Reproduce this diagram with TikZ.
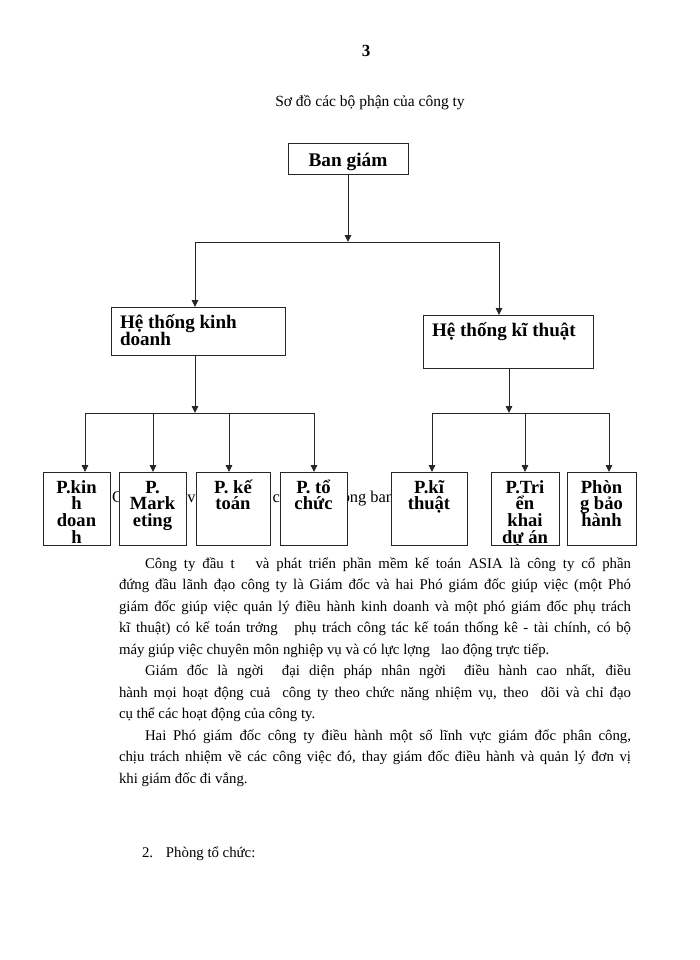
\documentclass[tikz,border=0pt]{standalone}
\usepackage{fontspec}
\setmainfont{Liberation Serif}
\usetikzlibrary{arrows.meta,calc}
\newcommand\boxlines[1]{\parbox[t]{90pt}{\centering\bfseries\fontsize{18.6}{16.7}\selectfont\lineskiplimit=-100pt\relax #1}}
\newcommand\headlines[1]{\parbox[t]{170pt}{\raggedright\bfseries\fontsize{19.1}{17}\selectfont\lineskiplimit=-100pt\relax #1}}
\begin{document}
\begin{tikzpicture}[x=1pt,y=-1pt,
  line/.style={draw=black!85, line width=0.9pt},
  arr/.style={line, -{Triangle[length=7pt,width=6.5pt]}},
  unitbox/.style={draw=black!85, line width=1pt, fill=white, inner sep=0pt, outer sep=0pt, anchor=north west},
  plain/.style={inner sep=0pt, outer sep=0pt},
  btext/.style={plain, anchor=base},
]
\fill[white] (0,0) rectangle (700,960);
\useasboundingbox (0,0) rectangle (700,960);

% page number and title
\node[btext] (pnum) at (366,57) {\bfseries\fontsize{17}{20}\selectfont 3};
\node[btext] (title) at (370,107) {\fontsize{15.5}{18}\selectfont Sơ đồ các bộ phận của công ty};

% text hidden behind the boxes
\node[plain, anchor=base west] (hidden) at (112,502) {\fontsize{16.4}{19}\selectfont Chức năng và nhiệm vụ của các phòng ban};

% top box
\node[unitbox, minimum width=120pt, minimum height=31pt,
  path picture={\node[btext] at ($(path picture bounding box.north)+(0,23)$) {\boxlines{\fontsize{19.3}{17}\selectfont Ban giám}};}] (ban) at (288,144) {};

% second level
\node[unitbox, minimum width=174pt, minimum height=48pt,
  path picture={\node[plain, anchor=base west] at ($(path picture bounding box.north west)+(7,21)$) {\headlines{Hệ thống kinh\\doanh}};}] (hkd) at (111,307) {};
\node[unitbox, minimum width=170pt, minimum height=53pt,
  path picture={\node[plain, anchor=base west] at ($(path picture bounding box.north west)+(9,21)$) {\headlines{Hệ thống kĩ thuật}};}] (hkt) at (423,315) {};

% third level
\node[unitbox, minimum width=67pt, minimum height=73pt,
  path picture={\node[btext] at ($(path picture bounding box.north)+(0,21)$) {\boxlines{P.kin\\h\\doan\\h}};}] (pkd) at (43,472) {};
\node[unitbox, minimum width=67pt, minimum height=73pt,
  path picture={\node[btext] at ($(path picture bounding box.north)+(0,21)$) {\boxlines{P.\\Mark\\eting}};}] (pmk) at (119,472) {};
\node[unitbox, minimum width=74pt, minimum height=73pt,
  path picture={\node[btext] at ($(path picture bounding box.north)+(0,21)$) {\boxlines{P. kế\\toán}};}] (pkt) at (196,472) {};
\node[unitbox, minimum width=67pt, minimum height=73pt,
  path picture={\node[btext] at ($(path picture bounding box.north)+(0,21)$) {\boxlines{P. tổ\\chức}};}] (ptc) at (280,472) {};
\node[unitbox, minimum width=76pt, minimum height=73pt,
  path picture={\node[btext] at ($(path picture bounding box.north)+(0,21)$) {\boxlines{P.kĩ\\thuật}};}] (pkth) at (391,472) {};
\node[unitbox, minimum width=68pt, minimum height=73pt,
  path picture={\node[btext] at ($(path picture bounding box.north)+(0,21)$) {\boxlines{P.Tri\\ển\\khai\\dự án}};}] (ptk) at (491,472) {};
\node[unitbox, minimum width=69pt, minimum height=73pt,
  path picture={\node[btext] at ($(path picture bounding box.north)+(0,21)$) {\boxlines{Phòn\\g bảo\\hành}};}] (pbh) at (567,472) {};

% connectors
\coordinate (jc) at (348,242);
\coordinate (jl) at (195,242);
\coordinate (jr) at (499,242);
\draw[arr] (ban.south) -- (jc);
\draw[line] (jl) -- (jr);
\draw[arr] (jl) -- (jl |- hkd.north);
\draw[arr] (jr) -- (jr |- hkt.north);

\coordinate (kl) at (195,413);
\coordinate (b1) at (85,413);
\coordinate (b2) at (153,413);
\coordinate (b3) at (229,413);
\coordinate (b4) at (314,413);
\draw[arr] (kl |- hkd.south) -- (kl);
\draw[line] (b1) -- (b4);
\draw[arr] (b1) -- (b1 |- pkd.north);
\draw[arr] (b2) -- (b2 |- pmk.north);
\draw[arr] (b3) -- (b3 |- pkt.north);
\draw[arr] (b4) -- (b4 |- ptc.north);

\coordinate (kr) at (509,413);
\coordinate (c1) at (432,413);
\coordinate (c2) at (525,413);
\coordinate (c3) at (609,413);
\draw[arr] (kr |- hkt.south) -- (kr);
\draw[line] (c1) -- (c3);
\draw[arr] (c1) -- (c1 |- pkth.north);
\draw[arr] (c2) -- (c2 |- ptk.north);
\draw[arr] (c3) -- (c3 |- pbh.north);

% body text
\node[plain, anchor=base west] (body) at (119,568) {\parbox[t]{512pt}{\fontsize{14.8}{21.5}\selectfont\lineskiplimit=-100pt\relax
\hspace*{26pt}Công ty đầu t\ \ \ và phát triển phần mềm kế toán ASIA là công ty cổ phần\linebreak
đứng đầu lãnh đạo công ty là Giám đốc và hai Phó giám đốc giúp việc (một Phó\linebreak
giám đốc giúp việc quản lý điều hành kinh doanh và một phó giám đốc phụ trách\linebreak
kĩ thuật) có kế toán trởng\ \ \ phụ trách công tác kế toán thống kê - tài chính, có bộ\linebreak
máy giúp việc chuyên môn nghiệp vụ và có lực lợng\ \ \ lao động trực tiếp.\par
\hspace*{26pt}Giám đốc là ngời\ \ đại diện pháp nhân ngời\ \ điều hành cao nhất, điều\linebreak
hành mọi hoạt động cuả\ \ công ty theo chức năng nhiệm vụ, theo\ \ dõi và chỉ đạo\linebreak
cụ thể các hoạt động của công ty.\par
\hspace*{26pt}Hai Phó giám đốc công ty điều hành một số lĩnh vực giám đốc phân công,\linebreak
chịu trách nhiệm về các công việc đó, thay giám đốc điều hành và quản lý đơn vị\linebreak
khi giám đốc đi vắng.}};

\node[plain, anchor=base west] (sec2) at (142,857) {\fontsize{14.8}{21.5}\selectfont\makebox[24pt][l]{2.}Phòng tổ chức:};
\end{tikzpicture}
\end{document}
